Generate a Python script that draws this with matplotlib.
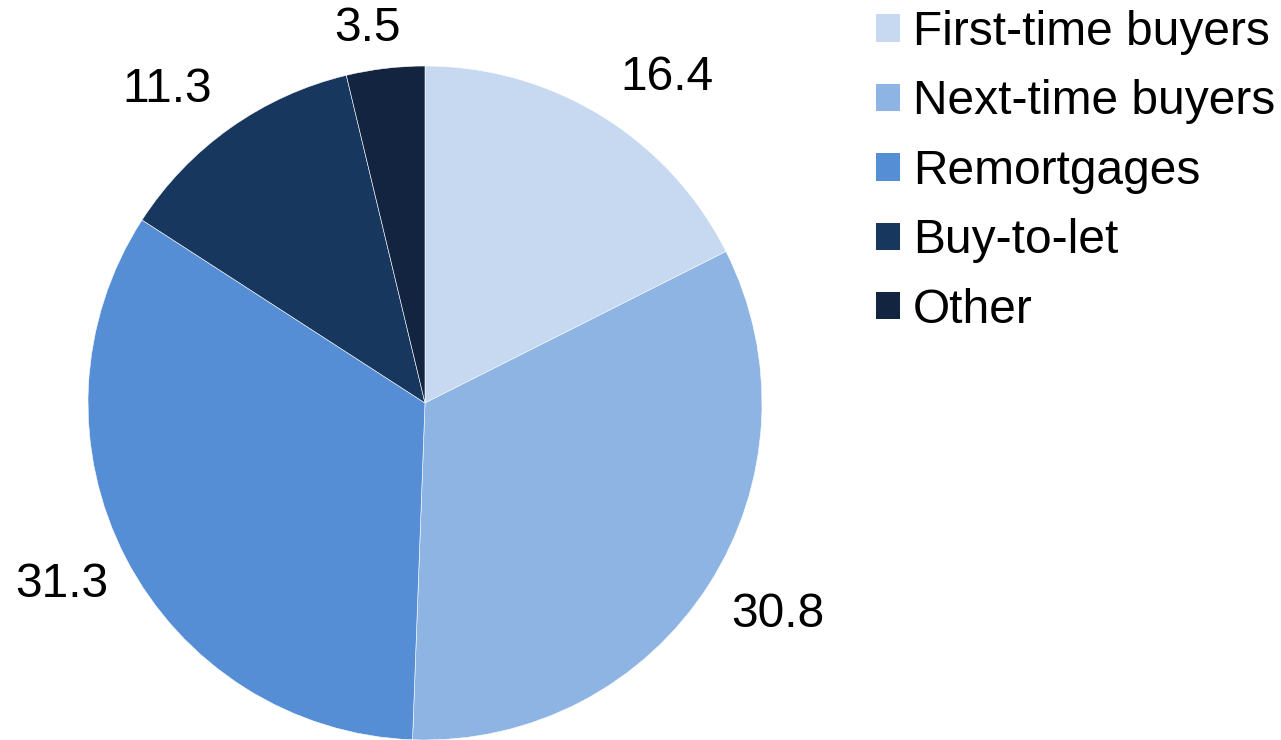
import matplotlib
matplotlib.use("Agg")
import matplotlib.pyplot as plt
from matplotlib.patches import Patch
import numpy as np

plt.rcParams['font.family'] = ['Liberation Sans', 'DejaVu Sans']

categories = ["First-time buyers", "Next-time buyers", "Remortgages", "Buy-to-let", "Other"]
values = [16.4, 30.8, 31.3, 11.3, 3.5]
value_labels = ["16.4", "30.8", "31.3", "11.3", "3.5"]
colors = ["#C6D9F1", "#8EB4E3", "#558ED5", "#18375E", "#12243F"]

W, H = 1281, 740
fig = plt.figure(figsize=(W / 100, H / 100), dpi=100)
cx, cy, r = 425, 403, 337
ax = fig.add_axes([(cx - r) / W, (H - cy - r) / H, 2 * r / W, 2 * r / H])
wedges, _ = ax.pie(values, colors=colors, startangle=90, counterclock=False, radius=1,
                   wedgeprops=dict(edgecolor="white", linewidth=0.4))
ax.set_xlim(-1, 1)
ax.set_ylim(-1, 1)
ax.set_aspect("equal")
ax.axis("off")

label_r = [1.205, 1.22, 1.205, 1.204, 1.125]
label_dang = [-5.0, 1.8, -0.9, 4.2, 1.9]
for w, lab, lr, da in zip(wedges, value_labels, label_r, label_dang):
    ang = np.deg2rad((w.theta1 + w.theta2) / 2 + da)
    ax.text(lr * np.cos(ang), lr * np.sin(ang), lab, ha="center", va="center",
            fontsize=34.5, color="black", clip_on=False)

handles = [Patch(facecolor=c, edgecolor="none") for c in colors]
leg = fig.legend(handles, categories, loc="upper left",
                 bbox_to_anchor=(876 / W, 1 - 10 / H), frameon=False, fontsize=34.5,
                 handlelength=0.5, handleheight=0.5, handletextpad=0.27,
                 labelspacing=0.51, borderpad=0, borderaxespad=0)

fig.savefig("out.png", dpi=100)
